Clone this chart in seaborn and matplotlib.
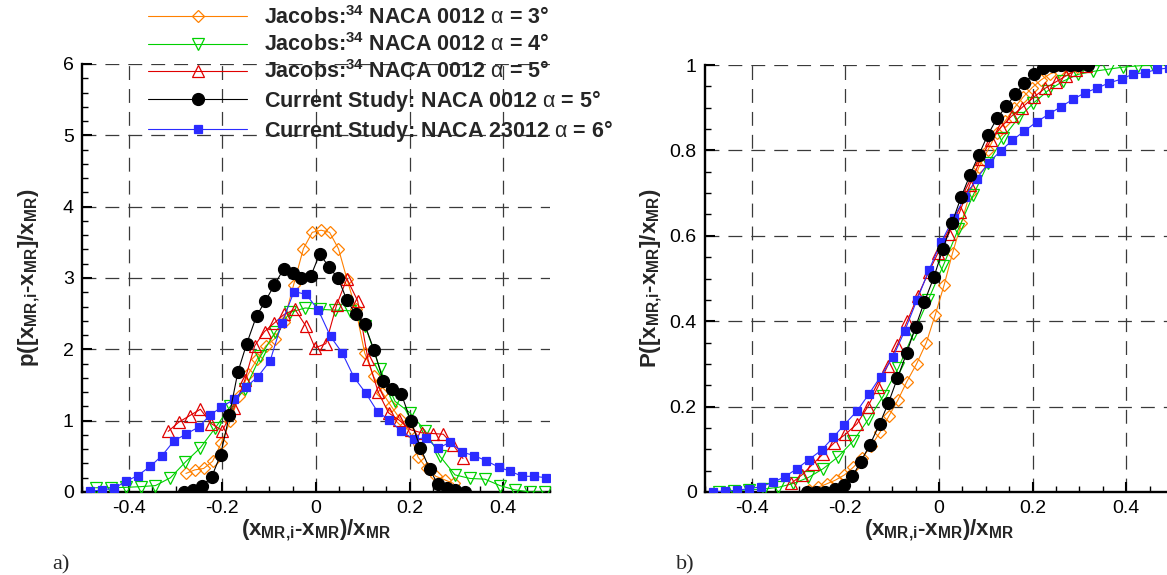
import matplotlib
matplotlib.use("Agg")
import matplotlib.pyplot as plt
from matplotlib.ticker import MultipleLocator
import seaborn as sns

sns.set_style("white")
plt.rcParams["font.family"] = ["Liberation Sans", "DejaVu Sans"]
plt.rcParams["mathtext.fontset"] = "custom"
plt.rcParams["mathtext.rm"] = "Liberation Sans"
plt.rcParams["mathtext.bf"] = "Liberation Sans:bold"
plt.rcParams["mathtext.it"] = "Liberation Sans:italic"
plt.rcParams["axes.unicode_minus"] = False
plt.rcParams["lines.scale_dashes"] = False

# ---- Jacobs, NACA 0012, alpha = 3 deg ----
x_a3 = [-0.278, -0.259, -0.240, -0.221, -0.202, -0.183, -0.164, -0.145, -0.126, -0.107,
        -0.088, -0.069, -0.048, -0.027, -0.008, 0.011, 0.029, 0.048, 0.066, 0.085,
        0.104, 0.123, 0.142, 0.161, 0.180, 0.199, 0.218, 0.237, 0.256, 0.275, 0.294]
pdf_a3 = [0.26, 0.31, 0.33, 0.43, 0.69, 1.00, 1.35, 1.65, 1.86, 2.05,
          2.15, 2.38, 2.90, 3.41, 3.64, 3.67, 3.64, 3.41, 2.99, 2.56,
          1.95, 1.62, 1.39, 1.20, 1.02, 0.85, 0.49, 0.33, 0.22, 0.17, 0.12]
cdf_a3 = [0.005, 0.011, 0.019, 0.028, 0.040, 0.058, 0.080, 0.108, 0.140, 0.178,
          0.215, 0.258, 0.300, 0.350, 0.415, 0.485, 0.560, 0.630, 0.700, 0.760,
          0.800, 0.840, 0.870, 0.900, 0.925, 0.947, 0.965, 0.979, 0.987, 0.992, 0.995]

# ---- Jacobs, NACA 0012, alpha = 4 deg ----
x_a4 = [-0.471, -0.439, -0.407, -0.375, -0.343, -0.311, -0.279, -0.247, -0.215, -0.183,
        -0.151, -0.119, -0.087, -0.055, -0.023, 0.009, 0.041, 0.073, 0.105, 0.137,
        0.169, 0.201, 0.233, 0.265, 0.297, 0.329, 0.361, 0.393, 0.425, 0.457, 0.489]
pdf_a4 = [0.06, 0.06, 0.065, 0.075, 0.09, 0.20, 0.42, 0.62, 0.90, 1.20,
          1.45, 1.90, 2.24, 2.52, 2.58, 2.56, 2.55, 2.54, 2.33, 1.72,
          1.27, 1.11, 0.86, 0.50, 0.24, 0.19, 0.18, 0.09, 0.03, 0.0, 0.0]
cdf_a4 = [0.0, 0.003, 0.005, 0.007, 0.011, 0.020, 0.034, 0.055, 0.083, 0.120,
          0.170, 0.225, 0.290, 0.370, 0.450, 0.530, 0.615, 0.695, 0.770, 0.830,
          0.875, 0.910, 0.940, 0.962, 0.978, 0.985, 0.990, 0.995, 0.998, 1.0, 1.0]

# ---- Jacobs, NACA 0012, alpha = 5 deg ----
x_a5 = [-0.316, -0.293, -0.270, -0.247, -0.224, -0.200, -0.175, -0.152, -0.131, -0.110,
        -0.089, -0.068, -0.045, -0.022, -0.002, 0.021, 0.044, 0.066, 0.089, 0.111,
        0.133, 0.155, 0.177, 0.203, 0.226, 0.249, 0.272, 0.293, 0.314]
pdf_a5 = [0.85, 0.98, 1.07, 1.16, 0.96, 0.86, 1.18, 1.57, 2.05, 2.25,
          2.37, 2.49, 2.56, 2.33, 2.02, 2.08, 2.62, 2.99, 2.68, 1.86,
          1.40, 1.11, 1.01, 0.87, 0.83, 0.82, 0.81, 0.66, 0.47]
cdf_a5 = [0.020, 0.040, 0.065, 0.090, 0.115, 0.135, 0.160, 0.200, 0.245, 0.295,
          0.345, 0.400, 0.460, 0.515, 0.560, 0.605, 0.655, 0.720, 0.780, 0.825,
          0.855, 0.880, 0.900, 0.925, 0.945, 0.960, 0.975, 0.988, 0.997]

# ---- Current study, NACA 0012, alpha = 5 deg ----
x_cs12 = [-0.283, -0.263, -0.244, -0.223, -0.204, -0.185, -0.167, -0.148, -0.127, -0.108,
          -0.089, -0.069, -0.050, -0.031, -0.011, 0.008, 0.028, 0.047, 0.066, 0.085,
          0.104, 0.124, 0.144, 0.163, 0.182, 0.203, 0.223, 0.243, 0.260, 0.279, 0.298, 0.318]
pdf_cs12 = [0.00, 0.03, 0.08, 0.21, 0.52, 1.08, 1.68, 2.08, 2.47, 2.68,
            2.90, 3.13, 3.07, 3.00, 3.03, 3.34, 3.15, 3.00, 2.69, 2.49,
            2.35, 1.99, 1.55, 1.45, 1.38, 0.99, 0.62, 0.32, 0.11, 0.06, 0.03, 0.00]
cdf_cs12 = [0.0, 0.0, 0.0, 0.008, 0.016, 0.037, 0.071, 0.110, 0.159, 0.209,
            0.266, 0.326, 0.387, 0.446, 0.503, 0.568, 0.631, 0.690, 0.742, 0.789,
            0.836, 0.875, 0.904, 0.931, 0.958, 0.979, 0.992, 0.997, 1.0, 1.0, 1.0, 1.0]

# ---- Current study, NACA 23012, alpha = 6 deg ----
x_cs23 = [-0.482, -0.457, -0.432, -0.406, -0.381, -0.354, -0.329, -0.303, -0.278, -0.251,
          -0.226, -0.202, -0.175, -0.150, -0.125, -0.098, -0.073, -0.047, -0.021, 0.005,
          0.031, 0.056, 0.081, 0.106, 0.132, 0.157, 0.182, 0.209, 0.235, 0.260,
          0.287, 0.312, 0.338, 0.363, 0.390, 0.415, 0.441, 0.466, 0.492]
pdf_cs23 = [0.01, 0.03, 0.05, 0.15, 0.23, 0.36, 0.51, 0.72, 0.81, 0.91,
            1.08, 1.19, 1.30, 1.47, 1.61, 1.84, 2.37, 2.81, 2.77, 2.55,
            2.18, 1.95, 1.61, 1.39, 1.12, 1.01, 0.85, 0.74, 0.76, 0.61,
            0.70, 0.56, 0.51, 0.44, 0.35, 0.29, 0.22, 0.22, 0.20]
cdf_cs23 = [0.0, 0.002, 0.004, 0.008, 0.012, 0.023, 0.036, 0.055, 0.076, 0.098,
            0.128, 0.158, 0.190, 0.229, 0.270, 0.317, 0.378, 0.450, 0.521, 0.586,
            0.641, 0.692, 0.734, 0.771, 0.799, 0.824, 0.845, 0.867, 0.885, 0.902,
            0.920, 0.935, 0.946, 0.958, 0.967, 0.979, 0.982, 0.990, 0.993]

labels = [
    r"Jacobs:$^{\mathbf{34}}$ NACA 0012 $\mathrm{\alpha}$ = 3°",
    r"Jacobs:$^{\mathbf{34}}$ NACA 0012 $\mathrm{\alpha}$ = 4°",
    r"Jacobs:$^{\mathbf{34}}$ NACA 0012 $\mathrm{\alpha}$ = 5°",
    r"Current Study: NACA 0012 $\mathrm{\alpha}$ = 5°",
    r"Current Study: NACA 23012 $\mathrm{\alpha}$ = 6°",
]

styles = [
    dict(color="#FF8000", marker="D", markersize=6.4, markerfacecolor="none", zorder=3),
    dict(color="#00D000", marker="v", markersize=8.5, markerfacecolor="none", zorder=4),
    dict(color="#E00000", marker="^", markersize=8.5, markerfacecolor="none", zorder=5),
    dict(color="black", marker="o", markersize=8.6, markerfacecolor="black", zorder=7),
    dict(color="#2B2BFF", marker="s", markersize=6.3, markerfacecolor="#2B2BFF", zorder=6),
]

series = [
    (x_a3, pdf_a3, cdf_a3),
    (x_a4, pdf_a4, cdf_a4),
    (x_a5, pdf_a5, cdf_a5),
    (x_cs12, pdf_cs12, cdf_cs12),
    (x_cs23, pdf_cs23, cdf_cs23),
]

W, H = 1167, 575
fig = plt.figure(figsize=(W / 100, H / 100), dpi=100)
ax_p = fig.add_axes([82 / W, 1 - 492 / H, 468 / W, 428 / H])
ax_c = fig.add_axes([705 / W, 1 - 492 / H, 468 / W, 427 / H])

for (xs, pdf, cdf), st in zip(series, styles):
    for ax, ys in ((ax_p, pdf), (ax_c, cdf)):
        sns.lineplot(x=xs, y=ys, ax=ax, sort=False, estimator=None,
                     linewidth=0.8, markeredgecolor=st["color"],
                     markeredgewidth=0.9, **st)

label_font = dict(fontsize=16)
xlab = r"$\mathbf{(x_{MR{,}i}‐x_{MR})/x_{MR}}$"

def style_axes(ax, ymax, ymajor, yminor, ylab):
    ax.set_xlim(-0.5, 0.5)
    ax.set_ylim(0, ymax)
    for side in ("top", "right"):
        ax.spines[side].set_visible(False)
    for side in ("left", "bottom"):
        ax.spines[side].set_linewidth(1.7)
        ax.spines[side].set_color("black")
    ax.xaxis.set_major_locator(MultipleLocator(0.2))
    ax.xaxis.set_minor_locator(MultipleLocator(0.05))
    ax.yaxis.set_major_locator(MultipleLocator(ymajor))
    ax.yaxis.set_minor_locator(MultipleLocator(yminor))
    ax.tick_params(which="both", direction="in", bottom=True, left=True,
                   top=False, right=False, colors="black")
    ax.tick_params(which="major", length=7, width=1.5, labelsize=14, pad=6)
    ax.tick_params(which="minor", length=4.2, width=1.0)
    ax.grid(True, which="major", color="#3a3a3a", linewidth=0.9,
            linestyle=(0, (10, 6.5)))
    ax.set_axisbelow(True)
    ax.set_xlabel(xlab, labelpad=0, **label_font)
    ax.set_ylabel(ylab, **label_font)

style_axes(ax_p, 6, 1, 0.2, r"$\mathbf{p([x_{MR{,}i}‐x_{MR}]/x_{MR})}$")
ax_p.set_xticks([-0.4, -0.2, 0, 0.2, 0.4])
ax_p.set_xticklabels(["-0.4", "-0.2", "0", "0.2", "0.4"])
ax_p.set_yticks([0, 1, 2, 3, 4, 5, 6])
ax_p.set_yticklabels(["0", "1", "2", "3", "4", "5", "6"])
ax_p.yaxis.set_label_coords(-40 / 468, 0.5)

style_axes(ax_c, 1, 0.2, 0.05, r"$\mathbf{P([x_{MR{,}i}‐x_{MR}]/x_{MR})}$")
ax_c.set_xticks([-0.4, -0.2, 0, 0.2, 0.4])
ax_c.set_xticklabels(["-0.4", "-0.2", "0", "0.2", "0.4"])
ax_c.set_yticks([0, 0.2, 0.4, 0.6, 0.8, 1.0])
ax_c.set_yticklabels(["0", "0.2", "0.4", "0.6", "0.8", "1"])
ax_c.yaxis.set_label_coords(-41 / 468, 0.5)

handles = ax_p.get_lines()[:len(series)]
fig.legend(handles, labels, loc="upper left", bbox_to_anchor=(148 / W, 1 - 6 / H),
           frameon=False, borderpad=0, borderaxespad=0, handlelength=4.6,
           handletextpad=0.8, labelspacing=0.2, numpoints=1,
           prop=dict(family="Liberation Sans", weight="bold", size=15.5))

fig.text(52 / W, 1 - 569 / H, "a)", family="Liberation Serif", fontsize=16)
fig.text(676 / W, 1 - 569 / H, "b)", family="Liberation Serif", fontsize=16)

fig.savefig("out.png", dpi=100)
